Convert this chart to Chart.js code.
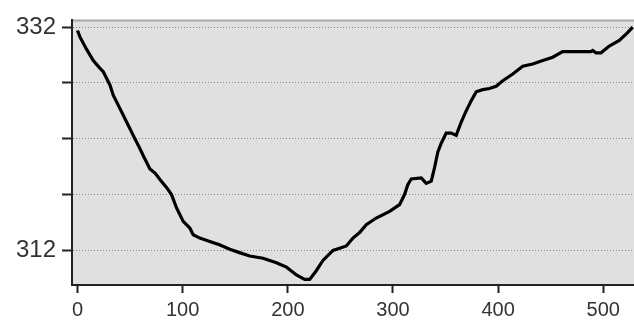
<!DOCTYPE html>
<html>
<head>
<meta charset="utf-8">
<script src="https://cdn.jsdelivr.net/npm/chart.js@4/dist/chart.umd.min.js"></script>
<style>
  html, body { margin: 0; padding: 0; background: #ffffff; }
  #wrap { width: 634px; height: 325px; position: relative; }
</style>
</head>
<body>
<div id="wrap"><canvas id="profile"></canvas></div>
<script>
// Elevation profile: distance along the route vs. elevation
const distance = [
  0, 2.4, 8.7, 15, 21.4, 24.5, 30.9, 34, 40.4, 46.7, 53, 59.4, 64, 68.9, 74, 78,
  85, 89.4, 94.2, 100.5, 106.8, 110, 116.3, 125.8, 135, 144.8, 154, 163.8, 176.4,
  189.2, 198.7, 208.2, 216, 220.8, 227.2, 233.4, 242.9, 249.3, 255.6, 261.9, 268.3,
  274.6, 284.1, 296.8, 306.3, 311, 314.2, 317.4, 326.9, 331.6, 336.4, 339.5, 342.6,
  345.9, 350.6, 355.4, 360.1, 364.9, 369.6, 374.4, 379.1, 385.4, 391.7, 398.1,
  404.4, 413.9, 423.4, 432.9, 442.4, 451.9, 461.3, 477.2, 488.3, 489.9, 493, 497.8,
  505.7, 515.2, 523.1, 528
];
const elevation = [
  331.7, 331.1, 330.0, 329.0, 328.3, 328.0, 326.8, 325.9, 324.7, 323.5, 322.3, 321.1,
  320.2, 319.3, 318.9, 318.4, 317.6, 317.0, 315.8, 314.6, 314.0, 313.4, 313.1, 312.8,
  312.5, 312.1, 311.8, 311.5, 311.3, 310.9, 310.5, 309.8, 309.4, 309.4, 310.2, 311.1,
  312.0, 312.2, 312.4, 313.1, 313.6, 314.3, 314.9, 315.5, 316.1, 317.0, 317.9, 318.4,
  318.5, 318.0, 318.2, 319.4, 320.8, 321.6, 322.5, 322.5, 322.3, 323.5, 324.5, 325.4,
  326.2, 326.4, 326.5, 326.7, 327.2, 327.8, 328.5, 328.7, 329.0, 329.3, 329.8, 329.8,
  329.8, 329.9, 329.7, 329.7, 330.3, 330.8, 331.5, 332.0
];
const xTicks = [0, 100, 200, 300, 400, 500];
const yTicks = [312, 317, 322, 327, 332];
const yLabelled = [312, 332];

const points = distance.map((d, i) => ({ x: d, y: elevation[i] }));

// Grey plot background and the thin top frame line
const plotBackground = {
  id: 'plotBackground',
  beforeDraw(chart) {
    const { ctx, chartArea: a } = chart;
    ctx.save();
    ctx.fillStyle = '#e0e0e0';
    ctx.fillRect(a.left, a.top, a.right - a.left, a.bottom - a.top);
    ctx.strokeStyle = '#a8a8a8';
    ctx.lineWidth = 2;
    ctx.beginPath();
    ctx.moveTo(a.left, a.top);
    ctx.lineTo(a.right, a.top);
    ctx.stroke();
    ctx.restore();
  }
};

new Chart(document.getElementById('profile'), {
  type: 'line',
  data: {
    datasets: [{
      data: points,
      borderColor: '#000000',
      borderWidth: 3.2,
      pointRadius: 0,
      tension: 0,
      fill: false
    }]
  },
  options: {
    responsive: true,
    maintainAspectRatio: false,
    animation: false,
    events: [],
    layout: { padding: { top: 18, right: 0, left: 0, bottom: 0 } },
    plugins: { legend: { display: false }, tooltip: { enabled: false } },
    scales: {
      x: {
        type: 'linear',
        min: -5.23,
        max: 529.2,
        afterBuildTicks(scale) { scale.ticks = xTicks.map(v => ({ value: v })); },
        afterFit(scale) { scale.height = 40; },
        grid: {
          drawOnChartArea: false,
          drawTicks: true,
          tickLength: 8,
          tickColor: '#222222',
          tickWidth: 2
        },
        border: { display: true, color: '#222222', width: 2 },
        ticks: {
          autoSkip: false,
          maxRotation: 0,
          padding: 5,
          color: '#333333',
          font: { family: 'Liberation Sans', size: 20 }
        }
      },
      y: {
        type: 'linear',
        min: 308.9,
        max: 332.6,
        afterBuildTicks(scale) { scale.ticks = yTicks.map(v => ({ value: v })); },
        afterFit(scale) { scale.width = 72; },
        grid: {
          drawOnChartArea: true,
          drawTicks: true,
          color: '#858585',
          lineWidth: 1,
          tickLength: 10,
          tickColor: '#222222',
          tickWidth: 2,
          tickBorderDash: []
        },
        border: { display: true, color: '#222222', width: 2, dash: [1, 2] },
        ticks: {
          autoSkip: false,
          padding: 6,
          color: '#333333',
          font: { family: 'Liberation Sans', size: 24 },
          callback: v => (yLabelled.includes(v) ? String(v) : '')
        }
      }
    }
  },
  plugins: [plotBackground]
});
</script>
</body>
</html>
